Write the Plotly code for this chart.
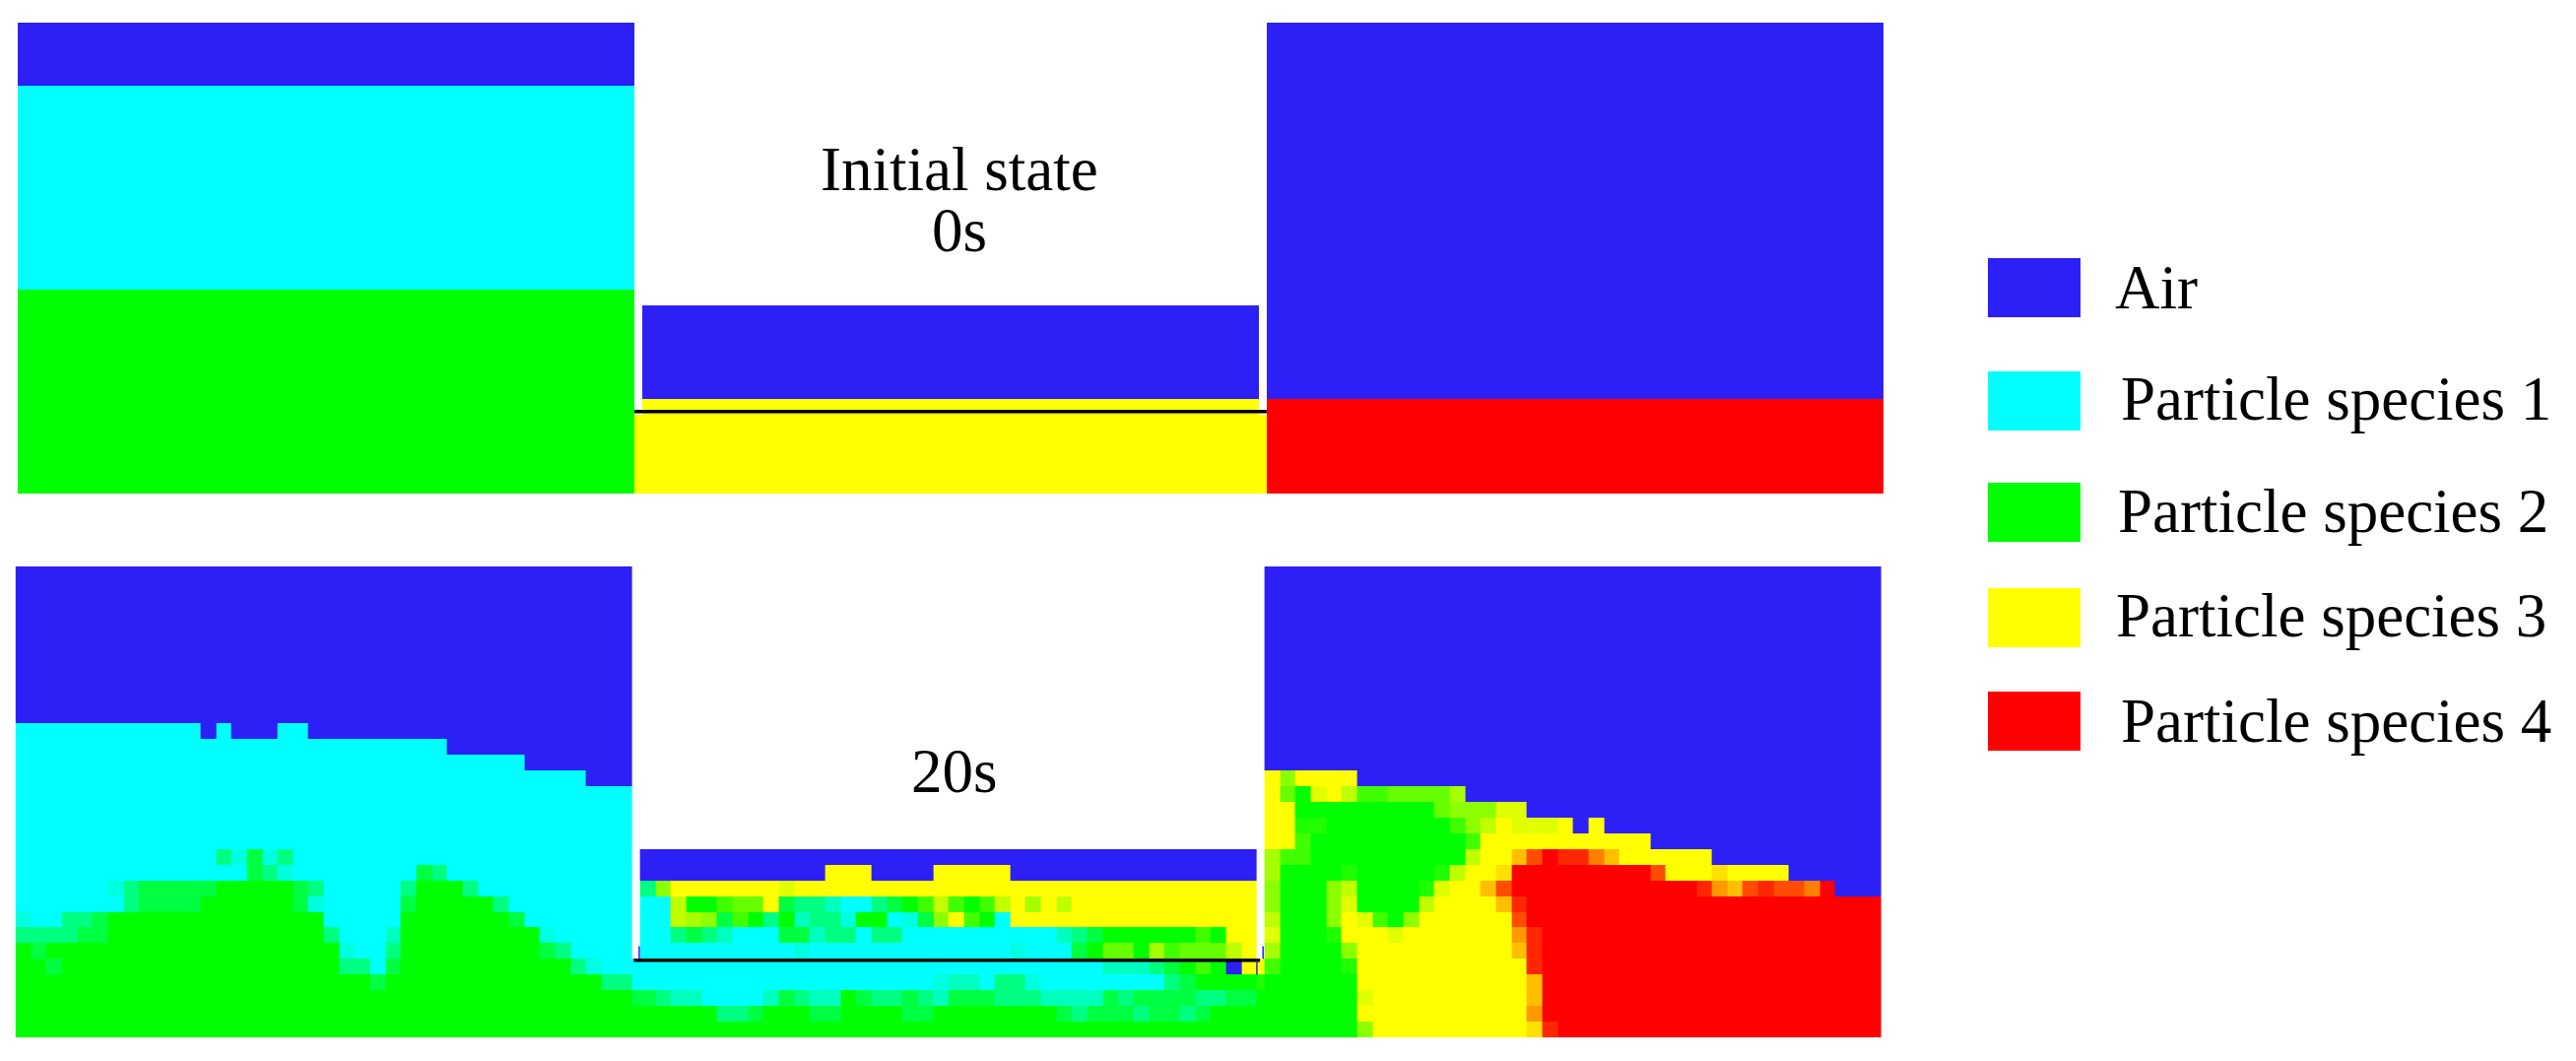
import re
import numpy as np
import plotly.graph_objects as go

W, H = 2615, 1077
BLUE = "#2D20F6"

# Material codes: value on the blue(0) - cyan(1) - green(2) - yellow(3) - red(4) scale
CODES = {".": None, "B": 0, "C": 1, "c": 1.12, "a": 1.25, "m": 1.5, "n": 1.75, "G": 2,
         "e": 2.12, "g": 2.25, "f": 2.4, "h": 2.55, "i": 2.65, "y": 2.75, "z": 2.88, "Y": 3,
         "k": 3.12, "K": 3.25, "l": 3.4, "L": 3.5, "r": 3.7, "s": 3.85, "R": 4}

# 0 s state, run-length rows (top to bottom)
t0_left = ["B40"] * 4 + ["C40"] * 13 + ["G40"] * 13
t0_mid = [".42"] * 18 + [". B40 ."] * 6 + [". Y40 ."] + ["Y42"] * 5
t0_right = ["B40"] * 24 + ["R40"] * 6

# 20 s state, run-length rows (top to bottom)
t20_left = ["B40"] * 10 + [
    "C12 B C B3 C2 B21", "C28 B12", "C33 B7", "C37 B3",
    "C40", "C40", "C40", "C40",
    "C13 m c n c m C22",
    "C15 n m c C8 n m C12",
    "C6 c m n n4 G5 n m C5 m G3 m C10",
    "C7 m n4 G6 n c C5 n G5 m C8",
    "c C2 m2 n G14 C5 G7 n C7",
    "m m3 n2 G14 m C3 a G9 c C5",
    "G n G19 c C2 m G9 n m C4",
    "G2 n G18 m2 C n G11 m c C2",
    "G23 n G14 m2",
    "G40", "G40", "G40",
]
t20_mid = [".42"] * 18 + [
    ". B40 .",
    ". B12 Y3 B4 Y5 B16 .",
    ". m h Y7 z Y30 .",
    ". C2 y G2 g f2 Y n m2 a C2 m n G g y g G g y Y i Y y Y12 .",
    ". C2 y i h n g G m G a m2 c G2 C c n h Y g G C Y16 .",
    ". C2 m n m a C3 n2 a m2 C m2 C10 a m n G6 g G Y2 .",
    ". C10 c C13 c C3 n G f2 G i g f3 y Y .",
    "C C30 a3 m n G g G B Y Y",
    "C C19 c a2 C m2 c C8 m n G4 e",
    "n n m a2 C4 a n m a2 G n m2 n m a n3 m3 a4 n m n4 m2 n2 G",
    "G G5 m2 n G3 n2 G4 n2 G8 n m n3 m n2 m n G3 G",
    "G G40 G",
]
t20_right = ["B40"] * 13 + [
    "Y h Y4 B34",
    "Y f G z Y y g2 f4 i B27",
    "Y2 G9 f h3 z2 B23",
    "Y2 e2 G8 g h y Y z3 Y B Y B18",
    "Y2 g G10 g Y11 B15",
    "i g2 G10 y Y2 K r R s2 L K Y6 B11",
    "i G4 e G5 e y Y2 k R9 r Y3 k Y4 B6",
    "h G3 h y G4 e z Y2 K r R12 s l K r s r2 L R B3",
    "h G3 h z G4 y Y4 K s R23",
    "y G3 h Y z g G h Y6 r R23",
    "z G3 e Y3 z Y7 l s R22",
    "i G4 h Y10 K s R22",
    "g G4 e Y11 s R22",
    "G6 Y11 K R22",
    "G6 z Y10 K R22",
    "G6 Y11 l R22",
    "G6 h Y10 k s R21",
]

# Divider between the upper and lower part of the middle block
t0_line_x = [40.0, 81.0]
t0_line_y = [24.77, 24.77]
t20_line_x = [40.1, 80.7]
t20_line_y = [25.09, 25.09]
t20_tick_x = [40.45, 40.45, None, 80.5, 80.5, None, 80.9, 80.9]
t20_tick_y = [24.2, 25.0, None, 25.1, 26.0, None, 24.2, 25.0]

legend_labels = ["Air", "Particle species 1", "Particle species 2",
                 "Particle species 3", "Particle species 4"]
legend_colors = [BLUE, "#00FFFF", "#00FF00", "#FFFF00", "#FF0000"]
legend_swatch_y = [262, 377, 490, 597, 702]
legend_text_y = [292, 405, 519, 625, 732]
legend_text_x = [2145, 2151, 2148, 2146, 2151]

# Cell edges in cell units: 40 left, half cell, 40 middle, half cell, 40 right
x_edges = (list(np.arange(0, 41)) + list(np.arange(40.5, 81.5)) + list(np.arange(81, 122)))
y_edges = list(range(31))


def decode(row, n):
    out = []
    for code, count in re.findall(r"([A-Za-z.])(\d*)", row):
        out += [CODES[code]] * (int(count) if count else 1)
    if len(out) != n:
        print("row length", len(out), "expected", n, row)
    return (out + [None] * n)[:n]


def grid(left, mid, right):
    return [decode(a, 40) + decode(b, 42) + decode(c, 40)
            for a, b, c in zip(left, mid, right)]


colorscale = [[0, BLUE], [0.25, "#00FFFF"], [0.5, "#00FF00"], [0.75, "#FFFF00"], [1, "#FF0000"]]
fig = go.Figure()


def add_panel(z, xaxis, yaxis, line_x, line_y):
    fig.add_trace(go.Heatmap(z=z, x=x_edges, y=y_edges, xaxis=xaxis, yaxis=yaxis,
                             colorscale=colorscale, zmin=0, zmax=4, showscale=False,
                             hoverongaps=False))
    fig.add_trace(go.Scatter(x=line_x, y=line_y, mode="lines", xaxis=xaxis,
                             yaxis=yaxis, line=dict(color="black", width=3.5),
                             showlegend=False))


add_panel(grid(t0_left, t0_mid, t0_right), "x", "y", t0_line_x, t0_line_y)
add_panel(grid(t20_left, t20_mid, t20_right), "x2", "y2", t20_line_x, t20_line_y)
fig.add_trace(go.Scatter(x=t20_tick_x, y=t20_tick_y, mode="lines", xaxis="x2", yaxis="y2",
                         line=dict(color=BLUE, width=1.5), showlegend=False))


def dom(a, b, size):
    return [a / size, b / size]


def ydom(top, bottom):
    return [1 - bottom / H, 1 - top / H]


hidden = dict(visible=False, fixedrange=True)
fig.update_layout(
    width=W, height=H, margin=dict(l=0, r=0, t=0, b=0),
    paper_bgcolor="white", plot_bgcolor="white", showlegend=False,
    xaxis=dict(domain=dom(18, 1912, W), range=[0, 121], anchor="y", **hidden),
    yaxis=dict(domain=ydom(23, 501), range=[30, 0], anchor="x", **hidden),
    xaxis2=dict(domain=dom(15.6, 1910, W), range=[0, 121], anchor="y2", **hidden),
    yaxis2=dict(domain=ydom(575, 1053), range=[30, 0], anchor="x2", **hidden),
    font=dict(family="Liberation Serif", size=63, color="black"),
)

for label, color, sy, ty, tx in zip(legend_labels, legend_colors, legend_swatch_y,
                                    legend_text_y, legend_text_x):
    fig.add_shape(type="rect", xref="paper", yref="paper", x0=2018 / W, x1=2112 / W,
                  y0=1 - (sy + 60) / H, y1=1 - sy / H, fillcolor=color, line_width=0)
    fig.add_annotation(text=label, xref="paper", yref="paper", x=tx / W, y=1 - ty / H,
                       xanchor="left", yanchor="middle", showarrow=False)

for text, cx, cy in [("Initial state", 974, 172), ("0s", 974, 234), ("20s", 969, 783)]:
    fig.add_annotation(text=text, xref="paper", yref="paper", x=cx / W, y=1 - cy / H,
                       xanchor="center", yanchor="middle", showarrow=False)

fig.write_html("out.html", config={"displayModeBar": False},
               post_script="document.body.style.margin='0';")
